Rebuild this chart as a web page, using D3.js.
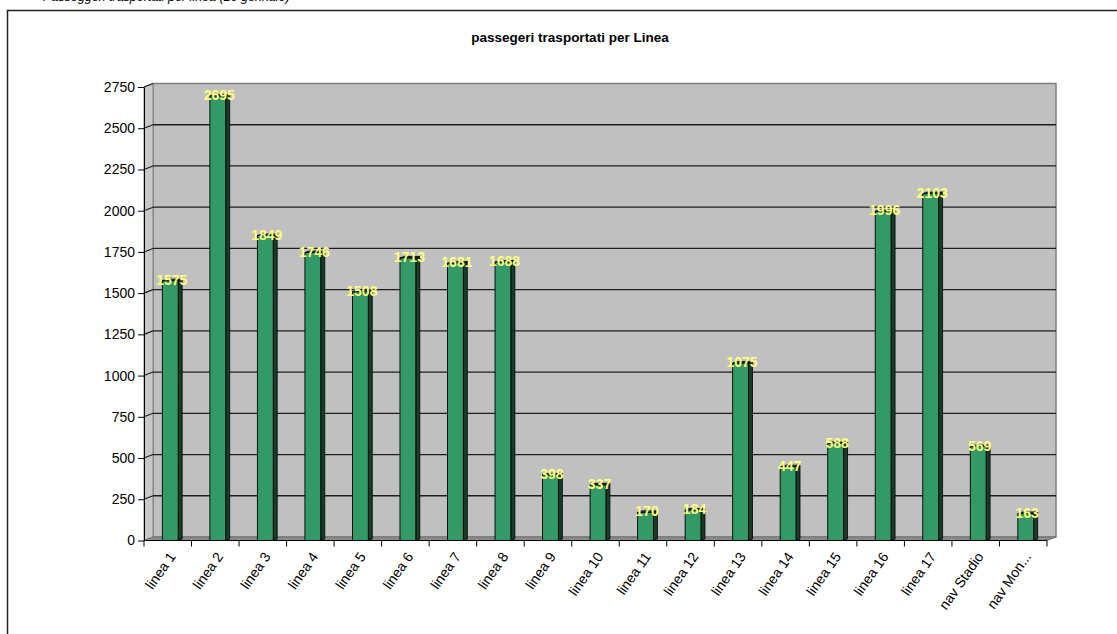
<!DOCTYPE html>
<html>
<head>
<meta charset="utf-8">
<script src="https://cdn.jsdelivr.net/npm/d3@7"></script>
<style>
	body { margin: 0; background: #fff; }
	svg { display: block; font-family: Arial, "Liberation Sans", sans-serif; }
</style>
</head>
<body>
<script>
const categories = ["linea 1", "linea 2", "linea 3", "linea 4", "linea 5", "linea 6", "linea 7", "linea 8", "linea 9", "linea 10",
	"linea 11", "linea 12", "linea 13", "linea 14", "linea 15", "linea 16", "linea 17", "nav Stadio", "nav Mon..."];
const passengers = [1575, 2695, 1849, 1746, 1508, 1713, 1681, 1688, 398, 337, 170, 184, 1075, 447, 588, 1996, 2103, 569, 163];
const yTickValues = [0, 250, 500, 750, 1000, 1250, 1500, 1750, 2000, 2250, 2500, 2750];
const chartTitle = "passegeri trasportati per Linea";
const pageCaption = "Passeggeri trasportati per linea (26 gennaio)";

const width = 1117;
const height = 634;

document.addEventListener("DOMContentLoaded", function(event) {
	createBarChart(passengers, height, width);
});

/**
 * draw the 3d-looking column chart (walls, floor, gridlines, bars, labels)
 */
function createBarChart(data, h, w) {
	const svg = d3.select("body").append("svg")
		.attr("width", w)
		.attr("height", h);

	// depth of the 3d box
	const dx = 9, dy = -3.5;

	const xScale = d3.scaleBand()
		.domain(categories)
		.range([144, 1047]);

	const yScale = d3.scaleLinear()
		.domain([0, 2750])
		.range([540.5, 87]);

	const x0 = xScale.range()[0], x1 = xScale.range()[1];
	const yb = yScale(0), yt = yScale(2750);

	// caption of the page, cut by the top edge as in the original
	svg.append("text")
		.attr("x", 43)
		.attr("y", 0.5)
		.attr("font-size", 12.5)
		.attr("font-style", "italic")
		.text(pageCaption);

	// frame round the chart
	svg.append("rect")
		.attr("x", 7.5)
		.attr("y", 10.5)
		.attr("width", w)
		.attr("height", h)
		.attr("fill", "none")
		.attr("stroke", "#222")
		.attr("stroke-width", 1.5);

	svg.append("text")
		.attr("x", 570)
		.attr("y", 42)
		.attr("text-anchor", "middle")
		.attr("font-size", 13.5)
		.attr("font-weight", "bold")
		.text(chartTitle);

	// walls and floor
	svg.append("polygon")
		.attr("points", [[x0 + dx, yt + dy], [x1 + dx, yt + dy], [x1 + dx, yb + dy], [x0 + dx, yb + dy]].join(" "))
		.attr("fill", "#c0c0c0")
		.attr("stroke", "#808080")
		.attr("stroke-width", 1.5);

	svg.append("polygon")
		.attr("points", [[x0, yt], [x0 + dx, yt + dy], [x0 + dx, yb + dy], [x0, yb]].join(" "))
		.attr("fill", "#c8c8c8")
		.attr("stroke", "#808080")
		.attr("stroke-width", 1);

	svg.append("polygon")
		.attr("points", [[x0, yb], [x0 + dx, yb + dy], [x1 + dx, yb + dy], [x1, yb]].join(" "))
		.attr("fill", "#8c8c8c")
		.attr("stroke", "#707070")
		.attr("stroke-width", 1);

	// gridlines on back and side wall
	const grid = svg.append("g");
	grid.selectAll("line.back")
		.data(yTickValues.slice(1, -1))
		.enter()
		.append("line")
		.attr("class", "back")
		.attr("x1", x0 + dx)
		.attr("x2", x1 + dx)
		.attr("y1", function(d) { return yScale(d) + dy })
		.attr("y2", function(d) { return yScale(d) + dy })
		.attr("stroke", "#1e1e1e")
		.attr("stroke-width", 1.3);

	grid.selectAll("line.side")
		.data(yTickValues.slice(1))
		.enter()
		.append("line")
		.attr("class", "side")
		.attr("x1", x0)
		.attr("x2", x0 + dx)
		.attr("y1", function(d) { return yScale(d) })
		.attr("y2", function(d) { return yScale(d) + dy })
		.attr("stroke", "#1e1e1e")
		.attr("stroke-width", 1.1);

	// bars
	const bw = xScale.bandwidth();
	const faceW = bw * 0.333;
	const off = bw * 0.386;
	const sx = 4, sy = -1.6;

	const bars = svg.append("g").selectAll("g")
		.data(data)
		.enter()
		.append("g");

	bars.append("polygon")
		.attr("points", function(d, i) {
			const xl = xScale(categories[i]) + off + faceW, top = yScale(d);
			return [[xl, top], [xl + sx, top + sy], [xl + sx, yb + sy], [xl, yb]].join(" ");
		})
		.attr("fill", "#163d29")
		.attr("stroke", "#000")
		.attr("stroke-width", 0.8);

	bars.append("polygon")
		.attr("points", function(d, i) {
			const xl = xScale(categories[i]) + off, top = yScale(d);
			return [[xl, top], [xl + sx, top + sy], [xl + faceW + sx, top + sy], [xl + faceW, top]].join(" ");
		})
		.attr("fill", "#1f4f35")
		.attr("stroke", "#000")
		.attr("stroke-width", 0.8);

	bars.append("rect")
		.attr("x", function(d, i) { return xScale(categories[i]) + off })
		.attr("y", function(d) { return yScale(d) })
		.attr("width", faceW)
		.attr("height", function(d) { return yb - yScale(d) })
		.attr("fill", "#339966")
		.attr("stroke", "#000")
		.attr("stroke-width", 0.9);

	// value labels
	bars.append("text")
		.attr("x", function(d, i) { return xScale(categories[i]) + off + faceW / 2 + 1.5 })
		.attr("y", function(d) { return yScale(d) + 4 })
		.attr("text-anchor", "middle")
		.attr("font-size", 14)
		.attr("font-weight", "bold")
		.attr("fill", "#ffff80")
		.text(function(d) { return d });

	// y axis
	const yAxis = d3.axisLeft(yScale)
		.tickValues(yTickValues)
		.tickFormat(d3.format("d"))
		.tickSize(6)
		.tickSizeOuter(0)
		.tickPadding(3);

	const ya = svg.append("g")
		.attr("transform", "translate(" + x0 + ",0)")
		.call(yAxis);
	ya.selectAll("text").attr("font-size", 14).attr("fill", "#000").attr("font-family", "Arial, 'Liberation Sans', sans-serif");
	ya.selectAll("line").attr("stroke", "#000");
	ya.select(".domain").attr("stroke", "#000");

	// x axis line and ticks at band edges
	svg.append("line")
		.attr("x1", x0).attr("x2", x1)
		.attr("y1", yb).attr("y2", yb)
		.attr("stroke", "#000");

	svg.append("g").selectAll("line")
		.data(categories.concat([null]))
		.enter()
		.append("line")
		.attr("x1", function(d, i) { return d === null ? x1 : xScale(d) })
		.attr("x2", function(d, i) { return d === null ? x1 : xScale(d) })
		.attr("y1", yb)
		.attr("y2", yb + 6)
		.attr("stroke", "#000");

	svg.append("g").selectAll("text")
		.data(categories)
		.enter()
		.append("text")
		.attr("transform", function(d) {
			return "translate(" + (xScale(d) + bw / 2 + 8.5) + "," + (yb + 16) + ") rotate(-55)";
		})
		.attr("text-anchor", "end")
		.attr("font-size", 14)
		.attr("fill", "#000")
		.text(function(d) { return d });
}
</script>
</body>
</html>
